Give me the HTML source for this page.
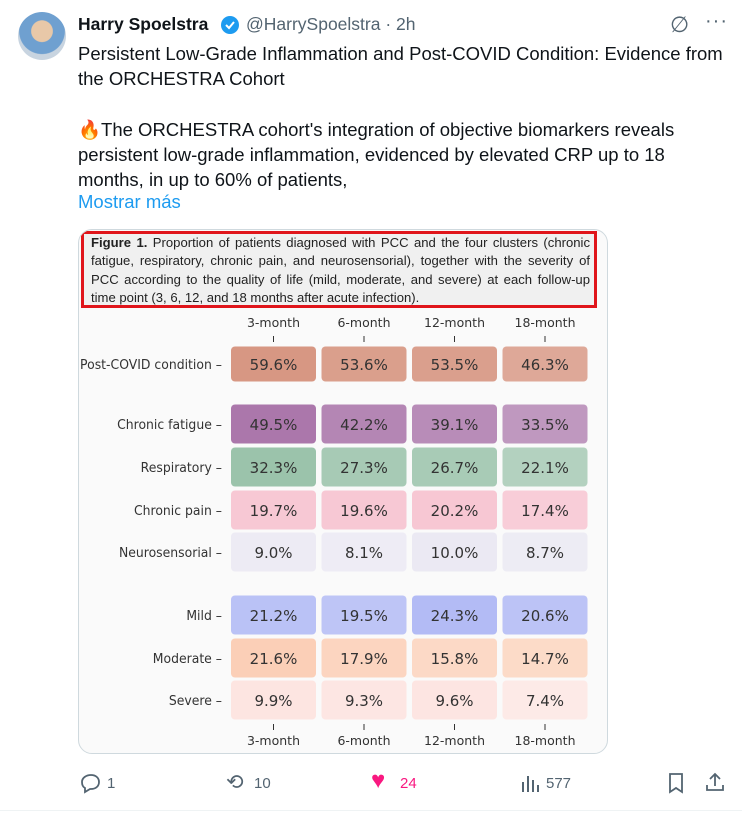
<!DOCTYPE html>
<html><head><meta charset="utf-8">
<style>
body{margin:0;width:742px;height:814px;background:#fff;font-family:"Liberation Sans",sans-serif;position:relative;overflow:hidden;color:#0f1419}
.abs{position:absolute}
.txt{font-size:18.5px;line-height:25px;left:78px;width:648px}
.act{font-size:15px;color:#536471;top:775px}
</style></head><body>
<div class="abs" style="left:18px;top:12px;width:48px;height:48px;border-radius:50%;background:radial-gradient(circle at 50% 40%,#e8c8a8 0 28%,#6fa0d0 30% 60%,#c8d4e0 62%)"></div>
<div class="abs" style="left:78px;top:14px;font-size:17.5px;font-weight:bold">Harry Spoelstra</div>
<svg class="abs" style="left:220px;top:15px" width="20" height="20" viewBox="0 0 20 20"><circle cx="10" cy="10" r="9" fill="#1d9bf0"/><path d="M6 10l3 3 5-6" stroke="#fff" stroke-width="2" fill="none"/></svg>
<div class="abs" style="left:246px;top:14px;font-size:17.5px;color:#536471">@HarrySpoelstra · 2h</div>
<div class="abs" style="left:670px;top:12px;font-size:22px;color:#536471">∅</div>
<div class="abs" style="left:705px;top:10px;font-size:20px;color:#536471;letter-spacing:1px">···</div>
<div class="abs txt" style="top:41px">Persistent Low-Grade Inflammation and Post-COVID Condition: Evidence from the ORCHESTRA Cohort</div>
<div class="abs txt" style="top:117px">🔥The ORCHESTRA cohort's integration of objective biomarkers reveals persistent low-grade inflammation, evidenced by elevated CRP up to 18 months, in up to 60% of patients,</div>
<div class="abs" style="left:78px;top:191px;font-size:18.5px;color:#1d9bf0">Mostrar más</div>

<div class="abs" style="left:78px;top:229px;width:528px;height:523px;border:1px solid #cfd9de;border-radius:14px;background:#fafafa;overflow:hidden">
 <div class="abs" style="left:2px;top:1px;height:71px;border:3px solid #e0151b;background:#f0f0f0;font-size:13.1px;line-height:18.3px;padding:0 4px 0 7px;box-sizing:content-box;text-align:justify;color:#222;width:499px"><b>Figure 1.</b> Proportion of patients diagnosed with PCC and the four clusters (chronic fatigue, respiratory, chronic pain, and neurosensorial), together with the severity of PCC according to the quality of life (mild, moderate, and severe) at each follow-up time point (3, 6, 12, and 18 months after acute infection).</div>
</div>
<svg id="hm" class="abs" style="left:0;top:0" width="742" height="814"></svg>

<svg class="abs" style="left:80px;top:772px" width="22" height="22" viewBox="0 0 22 22"><path d="M11 3c5 0 8 3 8 7s-3 7-8 7h-1l-5 3v-4c-2-1-3-3-3-6 0-4 4-7 9-7z" fill="none" stroke="#536471" stroke-width="1.8"/></svg>
<div class="abs act" style="left:107px">1</div>
<div class="abs" style="left:226px;top:770px;font-size:21px;color:#536471">⟲</div>
<div class="abs act" style="left:254px">10</div>
<div class="abs" style="left:371px;top:767px;font-size:24px;color:#f91880">♥</div>
<div class="abs act" style="left:400px;color:#f91880">24</div>
<svg class="abs" style="left:520px;top:774px" width="20" height="18"><rect x="2" y="8" width="2" height="10" fill="#536471"/><rect x="7" y="2" width="2" height="16" fill="#536471"/><rect x="12" y="6" width="2" height="12" fill="#536471"/><rect x="17" y="11" width="2" height="7" fill="#536471"/></svg>
<div class="abs act" style="left:546px">577</div>
<svg class="abs" style="left:667px;top:772px" width="18" height="22"><path d="M3 2h12v18l-6-4-6 4z" fill="none" stroke="#536471" stroke-width="1.8"/></svg>
<svg class="abs" style="left:704px;top:771px" width="22" height="22"><path d="M11 3v12M6 8l5-5 5 5M3 14v5h16v-5" fill="none" stroke="#536471" stroke-width="1.8"/></svg>
<div class="abs" style="left:0;top:810px;width:742px;height:1px;background:#eff3f4"></div>

<script>
const columns=["3-month","6-month","12-month","18-month"];
const rowLabels=["Post-COVID condition","Chronic fatigue","Respiratory","Chronic pain","Neurosensorial","Mild","Moderate","Severe"];
const pccValues=[[59.6,53.6,53.5,46.3]];
const clusterValues=[[49.5,42.2,39.1,33.5],[32.3,27.3,26.7,22.1],[19.7,19.6,20.2,17.4],[9.0,8.1,10.0,8.7]];
const severityValues=[[21.2,19.5,24.3,20.6],[21.6,17.9,15.8,14.7],[9.9,9.3,9.6,7.4]];
const NS='http://www.w3.org/2000/svg';
const svg=document.getElementById('hm');
const rowY=[364,424,467,510,552,615,658,700];
const rowH=[35,39,39,39,39,39,39,39];
const colors=[[205,125,100],[150,85,150],[130,180,150],[245,185,200],[230,228,240],[160,170,242],[250,195,165],[252,222,218]];
const x=i=>231+i*90.5, cw=85;
function el(t,a){const e=document.createElementNS(NS,t);for(const k in a)e.setAttribute(k,a[k]);svg.appendChild(e);return e;}
const all=pccValues.concat(clusterValues,severityValues);
all.forEach((row,r)=>{
  const mx=Math.max(...row);
  const lab=el('text',{x:222,y:rowY[r]+5,'text-anchor':'end','font-size':13.5,fill:'#333','font-family':'DejaVu Sans, sans-serif'});
  
  
  lab.setAttribute('transform',`translate(222,0) scale(0.92,1) translate(-222,0)`);
  lab.textContent=rowLabels[r]+' –';
  row.forEach((v,c)=>{
    const t=0.2+0.6*v/mx;const b=colors[r];
    const col=`rgb(${b.map(k=>Math.round(255-(255-k)*t)).join(',')})`;
    const rc=el('rect',{x:x(c),y:rowY[r]-rowH[r]/2,width:cw,height:rowH[r],rx:4,fill:col});
    
    
    const tx=el('text',{x:x(c)+cw/2,y:rowY[r]+6,'text-anchor':'middle','font-size':15,fill:'#333','font-family':'DejaVu Sans, sans-serif'});
    
    
    tx.textContent=v.toFixed(1)+'%';
  });
});
columns.forEach((c,i)=>{
  [[327,336],[745,724]].forEach(([ty,tk])=>{
    const t=el('text',{x:x(i)+cw/2,y:ty,'text-anchor':'middle','font-size':12.5,fill:'#333','font-family':'DejaVu Sans, sans-serif'});
    
    
    t.textContent=c;
    const l=el('line',{x1:x(i)+cw/2,x2:x(i)+cw/2,y1:tk,y2:tk+6,stroke:'#333','stroke-width':1});
    
    
  });
});
</script>
</body></html>
